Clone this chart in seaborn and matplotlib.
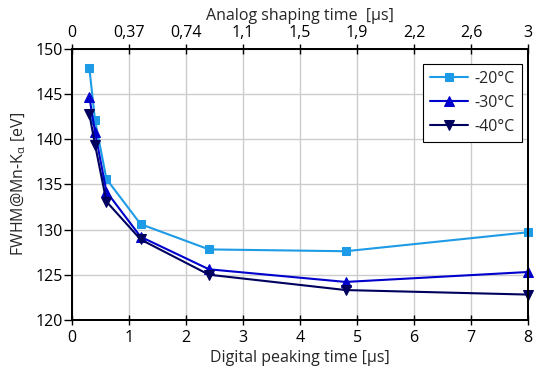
import numpy as np
import pandas as pd
import matplotlib
matplotlib.use("Agg")
import matplotlib.pyplot as plt
import seaborn as sns

# --- data ---
peaking_time = [0.3, 0.4, 0.6, 1.2, 2.4, 4.8, 8.0]
fwhm_m20 = [147.9, 142.1, 135.6, 130.6, 127.8, 127.6, 129.7]
fwhm_m30 = [144.7, 140.8, 134.2, 129.2, 125.6, 124.2, 125.3]
fwhm_m40 = [142.8, 139.4, 133.1, 128.9, 125.0, 123.3, 122.8]
series_labels = ["-20°C", "-30°C", "-40°C"]
series_colors = ["#1e9be6", "#0000cc", "#00005e"]
series_markers = ["s", "^", "v"]

top_tick_labels = ["0", "0,37", "0,74", "1,1", "1,5", "1,9", "2,2", "2,6", "3"]

df = pd.DataFrame({
    "t": peaking_time * 3,
    "fwhm": fwhm_m20 + fwhm_m30 + fwhm_m40,
    "temp": np.repeat(series_labels, len(peaking_time)),
})

sns.set_style("whitegrid")
plt.rcParams["font.family"] = ["Open Sans", "DejaVu Sans"]
plt.rcParams["mathtext.fontset"] = "custom"
plt.rcParams["mathtext.rm"] = "Open Sans"
plt.rcParams["mathtext.it"] = "Open Sans"

fig = plt.figure(figsize=(5.6, 3.79), dpi=100)
ax = fig.add_axes([0.129, 0.156, 0.814, 0.715])

for lab, col, mk in zip(series_labels, series_colors, series_markers):
    sub = df[df["temp"] == lab]
    sns.lineplot(data=sub, x="t", y="fwhm", color=col, marker=mk,
                 markersize=5.5 if mk == "s" else 6.5,
                 markeredgecolor=col, linewidth=1.5, label=lab, ax=ax, clip_on=False)

ax.set_xlim(0, 8)
ax.set_ylim(120, 150)
ax.set_xticks(range(0, 9))
ax.set_yticks(range(120, 151, 5))
ax.grid(True, color="#cccccc", linewidth=1)
for s in ax.spines.values():
    s.set_color("black")
    s.set_linewidth(1.3)
ax.tick_params(axis="x", direction="inout", length=7, width=1, colors="black",
               labelsize=11.5, bottom=True, pad=4)
ax.tick_params(axis="y", direction="out", length=6, width=1, colors="black",
               labelsize=11.5, left=True, pad=1)
ax.set_xlabel("Digital peaking time [µs]", fontsize=11.5, labelpad=3)
ax.set_ylabel(r"FWHM@Mn-K$_\mathregular{α}$ [eV]", fontsize=11.5, labelpad=5)

# top axis: analog shaping time
ax2 = ax.twiny()
ax2.set_xlim(ax.get_xlim())
ax2.set_xticks(range(0, 9))
ax2.set_xticklabels(top_tick_labels)
ax2.tick_params(axis="x", direction="inout", length=7, width=1, colors="black",
                labelsize=11.5, top=True, pad=2)
ax2.grid(False)
for s in ax2.spines.values():
    s.set_color("black")
    s.set_linewidth(1.3)
ax2.set_xlabel("Analog shaping time  [µs]", fontsize=11.5, labelpad=4)

leg = ax.legend(loc="upper right", bbox_to_anchor=(0.987, 0.945), borderaxespad=0,
                fontsize=11.5, frameon=True, fancybox=False, edgecolor="black",
                framealpha=1, handlelength=2.4, borderpad=0.45, labelspacing=0.5,
                handletextpad=0.4)
leg.get_frame().set_linewidth(0.8)

fig.savefig("out.png", dpi=100)
